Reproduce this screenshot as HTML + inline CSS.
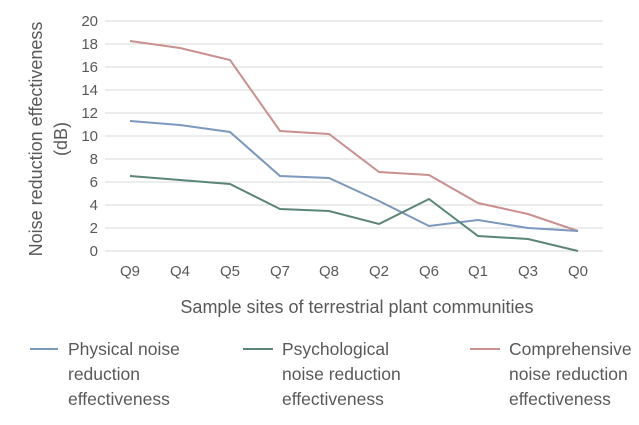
<!DOCTYPE html>
<html><head><meta charset="utf-8"><style>
body{margin:0;background:#fff;width:639px;height:420px;overflow:hidden}
svg text{font-family:"Liberation Sans",sans-serif;fill:#595959}
</style></head><body>
<svg width="639" height="420" viewBox="0 0 639 420">
<g stroke="#d9d9d9" stroke-width="1">
<line x1="105" x2="603" y1="21" y2="21"/><line x1="105" x2="603" y1="44" y2="44"/>
<line x1="105" x2="603" y1="67" y2="67"/><line x1="105" x2="603" y1="90" y2="90"/>
<line x1="105" x2="603" y1="113" y2="113"/><line x1="105" x2="603" y1="136" y2="136"/>
<line x1="105" x2="603" y1="159" y2="159"/><line x1="105" x2="603" y1="182" y2="182"/>
<line x1="105" x2="603" y1="205" y2="205"/><line x1="105" x2="603" y1="228" y2="228"/>
<line x1="105" x2="603" y1="251" y2="251"/>
</g>
<g font-size="15" text-anchor="end">
<text x="98" y="26">20</text><text x="98" y="49">18</text><text x="98" y="72">16</text>
<text x="98" y="95">14</text><text x="98" y="118">12</text><text x="98" y="141">10</text>
<text x="98" y="164">8</text><text x="98" y="187">6</text><text x="98" y="210">4</text>
<text x="98" y="233">2</text><text x="98" y="256">0</text>
</g>
<g font-size="15" text-anchor="middle">
<text x="130" y="276">Q9</text><text x="180" y="276">Q4</text><text x="230" y="276">Q5</text>
<text x="280" y="276">Q7</text><text x="329" y="276">Q8</text><text x="379" y="276">Q2</text>
<text x="429" y="276">Q6</text><text x="478" y="276">Q1</text><text x="528" y="276">Q3</text>
<text x="578" y="276">Q0</text>
</g>
<g font-size="18" text-anchor="middle">
<text transform="translate(42,139) rotate(-90)">Noise reduction effectiveness</text>
<text transform="translate(67,139) rotate(-90)">(dB)</text>
<text x="357" y="313">Sample sites of terrestrial plant communities</text>
</g>
<g fill="none" stroke-width="2">
<polyline stroke="#c9908f" points="130,41 180,48 230,60 280,131 329,134 379,172 429,175 478,203 528,214 578,231"/>
<polyline stroke="#7b98bd" points="130,121 180,125 230,132 280,176 329,178 379,201 429,226 478,220 528,228 578,231"/>
<polyline stroke="#5b8578" points="130,176 180,180 230,184 280,209 329,211 379,224 429,199 478,236 528,239 578,251"/>
</g>
<g stroke-width="2">
<line x1="30" x2="58" y1="349" y2="349" stroke="#7b98bd"/>
<line x1="243" x2="273" y1="349" y2="349" stroke="#5b8578"/>
<line x1="470" x2="500" y1="349" y2="349" stroke="#c9908f"/>
</g>
<g font-size="17.5">
<text x="68" y="355">Physical noise</text><text x="68" y="380">reduction</text><text x="68" y="405">effectiveness</text>
<text x="282" y="355">Psychological</text><text x="282" y="380">noise reduction</text><text x="282" y="405">effectiveness</text>
<text x="509" y="355">Comprehensive</text><text x="509" y="380">noise reduction</text><text x="509" y="405">effectiveness</text>
</g>
</svg>
</body></html>
